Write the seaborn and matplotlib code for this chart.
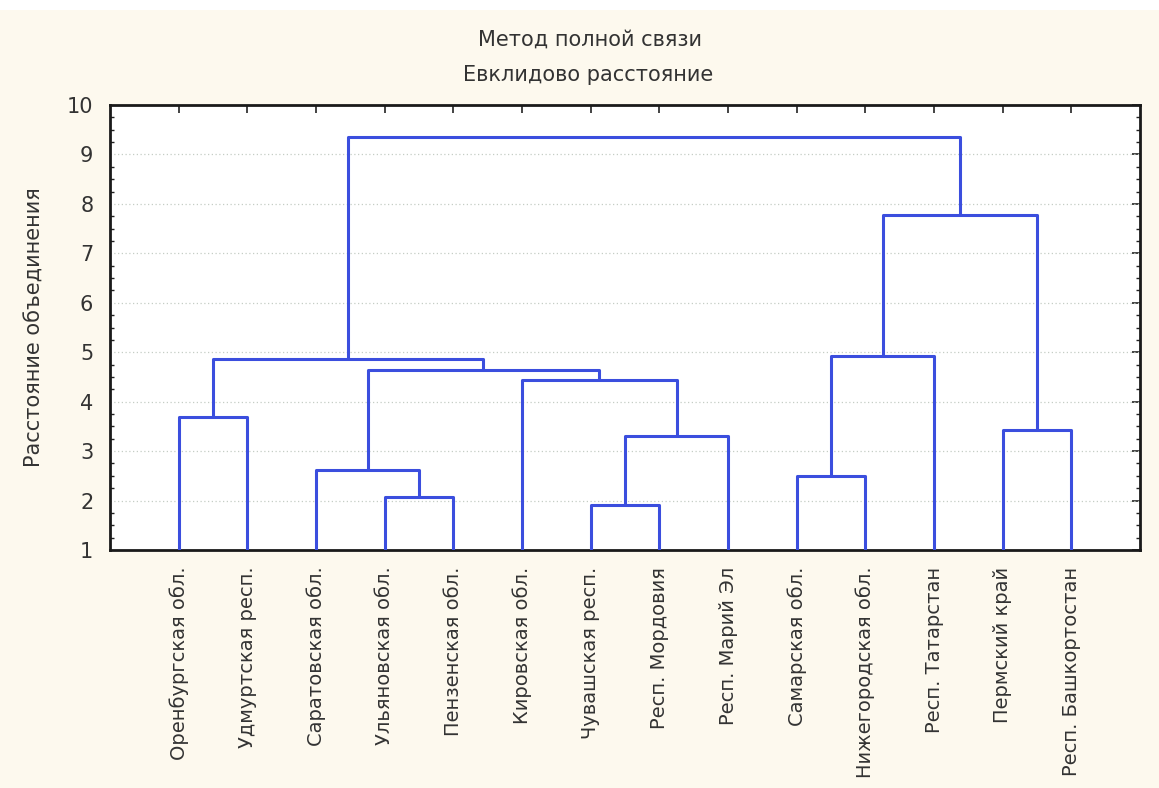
import numpy as np
import pandas as pd
import matplotlib
matplotlib.use("Agg")
import matplotlib.pyplot as plt
import seaborn as sns

# leaves in the order shown on the x axis
leaves = ["Оренбургская обл.", "Удмуртская респ.", "Саратовская обл.",
          "Ульяновская обл.", "Пензенская обл.", "Кировская обл.",
          "Чувашская респ.", "Респ. Мордовия", "Респ. Марий Эл",
          "Самарская обл.", "Нижегородская обл.", "Респ. Татарстан",
          "Пермский край", "Респ. Башкортостан"]

# merges in order: nodes 0..13 are leaves, node 14+k is the k-th merge
merge_left = [6, 3, 0, 9, 12, 2, 14, 5, 17, 19, 22, 16, 25]
merge_right = [7, 4, 1, 10, 13, 15, 8, 20, 11, 21, 18, 23, 24]
merge_height = [1.91, 2.07, 3.69, 2.50, 3.42, 2.62, 3.31, 4.44, 4.93, 4.64, 7.78, 4.86, 9.35]

title = "Метод полной связи"
subtitle = "Евклидово расстояние"
ylabel = "Расстояние объединения"
yticks = [1, 2, 3, 4, 5, 6, 7, 8, 9, 10]

line_color = "#3b4ede"
text_color = "#333333"
cream = "#fdf9ee"

sns.set_style("white")
plt.rcParams["font.family"] = ["DejaVu Sans"]

# U-shaped links, positioned like scipy's dendrogram (cluster x = mean of children)
xpos = {i: i + 1.0 for i in range(len(leaves))}
ypos = {i: 1.0 for i in range(len(leaves))}
rows = []
for k, (a, b, h) in enumerate(zip(merge_left, merge_right, merge_height)):
    node = len(leaves) + k
    xs = [xpos[a], xpos[a], xpos[b], xpos[b]]
    ys = [ypos[a], h, h, ypos[b]]
    for xx, yy in zip(xs, ys):
        rows.append({"link": k, "x": xx, "y": yy})
    xpos[node] = (xpos[a] + xpos[b]) / 2
    ypos[node] = h
df = pd.DataFrame(rows)

fig = plt.figure(figsize=(11.59, 7.88), dpi=100, facecolor=cream)
fig.patches.append(plt.Rectangle((0, 1 - 10 / 788), 1, 10 / 788, transform=fig.transFigure,
                                 facecolor="white", edgecolor="none", zorder=0))
ax = fig.add_axes([110 / 1159, 1 - 550 / 788, 1030 / 1159, 445 / 788])
ax.set_facecolor("white")

for y in yticks[1:-1]:
    ax.axhline(y, color="#c5cdc5", lw=0.9, ls=(0, (1, 2)), zorder=1)

sns.lineplot(data=df, x="x", y="y", units="link", estimator=None, sort=False,
             color=line_color, lw=2.2, ax=ax, zorder=3)

ax.set_xlim(0, len(leaves) + 1)
ax.set_ylim(1, 10)
ax.set_yticks(yticks)
ax.set_yticks(np.arange(1, 10.01, 0.25), minor=True)
ax.set_xticks(range(1, len(leaves) + 1))
ax.set_xticklabels(leaves, rotation=90, fontsize=14, color=text_color, va="top")
ax.set_yticklabels([str(t) for t in yticks], fontsize=15, color=text_color)
ax.tick_params(axis="both", which="major", direction="in", length=6, width=1.2,
               top=True, right=True, color="#222222")
ax.tick_params(axis="x", which="major", pad=12)
ax.tick_params(axis="y", which="major", pad=12)
ax.tick_params(axis="y", which="minor", direction="in", length=3, width=1,
               left=True, right=True, color="#222222")
ax.set_xlabel("")
ax.set_ylabel(ylabel, fontsize=15, color=text_color, labelpad=16)
for s in ax.spines.values():
    s.set_color("#1a1a1a")
    s.set_linewidth(2)

fig.text(590 / 1159, 1 - 40 / 788, title, ha="center", va="center",
         fontsize=15, color=text_color)
fig.text(588 / 1159, 1 - 75 / 788, subtitle, ha="center", va="center",
         fontsize=15, color=text_color)

fig.savefig("out.png", dpi=100, facecolor=fig.get_facecolor())
